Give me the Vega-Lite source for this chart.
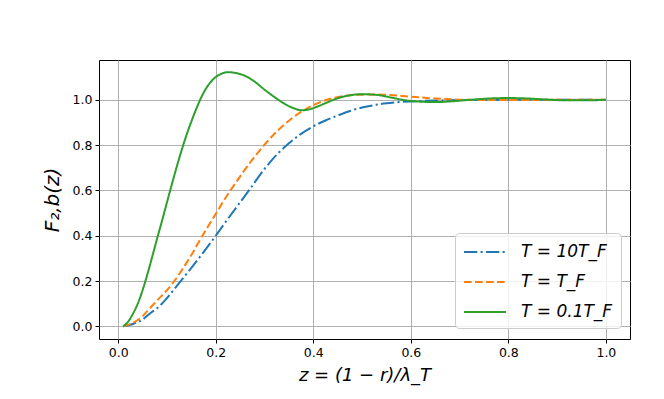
{
  "$schema": "https://vega.github.io/schema/vega-lite/v6.json",
  "width": 531,
  "height": 279,
  "autosize": {"type": "none"},
  "padding": {"left": 99, "top": 60, "right": 34, "bottom": 60},
  "background": "white",
  "config": {
    "view": {"stroke": "#000000", "strokeWidth": 1},
    "font": "DejaVu Sans",
    "axis": {
      "domain": false,
      "grid": true,
      "gridColor": "#b0b0b0",
      "gridWidth": 1,
      "tickColor": "#000000",
      "tickSize": 4,
      "tickWidth": 1,
      "labelColor": "#000000",
      "labelFont": "DejaVu Sans",
      "labelFontSize": 12.5,
      "labelPadding": 3,
      "titleColor": "#000000",
      "titleFont": "DejaVu Sans",
      "titleFontWeight": "normal",
      "titleFontStyle": "italic"
    }
  },
  "data": {
    "values": [
      {"T": "T = 10T_F", "z": 0.01, "F": 0.0},
      {"T": "T = 10T_F", "z": 0.03, "F": 0.01},
      {"T": "T = 10T_F", "z": 0.05, "F": 0.03},
      {"T": "T = 10T_F", "z": 0.065, "F": 0.057},
      {"T": "T = 10T_F", "z": 0.085, "F": 0.09},
      {"T": "T = 10T_F", "z": 0.1, "F": 0.125},
      {"T": "T = 10T_F", "z": 0.128, "F": 0.2},
      {"T": "T = 10T_F", "z": 0.15, "F": 0.258},
      {"T": "T = 10T_F", "z": 0.175, "F": 0.328},
      {"T": "T = 10T_F", "z": 0.2, "F": 0.4},
      {"T": "T = 10T_F", "z": 0.225, "F": 0.475},
      {"T": "T = 10T_F", "z": 0.25, "F": 0.548},
      {"T": "T = 10T_F", "z": 0.268, "F": 0.6},
      {"T": "T = 10T_F", "z": 0.3, "F": 0.695},
      {"T": "T = 10T_F", "z": 0.325, "F": 0.758},
      {"T": "T = 10T_F", "z": 0.35, "F": 0.808},
      {"T": "T = 10T_F", "z": 0.375, "F": 0.85},
      {"T": "T = 10T_F", "z": 0.4, "F": 0.883},
      {"T": "T = 10T_F", "z": 0.425, "F": 0.909},
      {"T": "T = 10T_F", "z": 0.45, "F": 0.931},
      {"T": "T = 10T_F", "z": 0.475, "F": 0.951},
      {"T": "T = 10T_F", "z": 0.5, "F": 0.966},
      {"T": "T = 10T_F", "z": 0.525, "F": 0.977},
      {"T": "T = 10T_F", "z": 0.55, "F": 0.985},
      {"T": "T = 10T_F", "z": 0.575, "F": 0.99},
      {"T": "T = 10T_F", "z": 0.6, "F": 0.993},
      {"T": "T = 10T_F", "z": 0.65, "F": 0.997},
      {"T": "T = 10T_F", "z": 0.7, "F": 0.999},
      {"T": "T = 10T_F", "z": 0.8, "F": 1.0},
      {"T": "T = 10T_F", "z": 0.9, "F": 1.0},
      {"T": "T = 10T_F", "z": 1.0, "F": 1.0},

      {"T": "T = T_F", "z": 0.01, "F": 0.0},
      {"T": "T = T_F", "z": 0.03, "F": 0.015},
      {"T": "T = T_F", "z": 0.05, "F": 0.045},
      {"T": "T = T_F", "z": 0.065, "F": 0.08},
      {"T": "T = T_F", "z": 0.08, "F": 0.115},
      {"T": "T = T_F", "z": 0.1, "F": 0.16},
      {"T": "T = T_F", "z": 0.115, "F": 0.2},
      {"T": "T = T_F", "z": 0.13, "F": 0.247},
      {"T": "T = T_F", "z": 0.15, "F": 0.315},
      {"T": "T = T_F", "z": 0.172, "F": 0.398},
      {"T": "T = T_F", "z": 0.19, "F": 0.462},
      {"T": "T = T_F", "z": 0.2, "F": 0.497},
      {"T": "T = T_F", "z": 0.222, "F": 0.574},
      {"T": "T = T_F", "z": 0.25, "F": 0.662},
      {"T": "T = T_F", "z": 0.275, "F": 0.736},
      {"T": "T = T_F", "z": 0.3, "F": 0.802},
      {"T": "T = T_F", "z": 0.325, "F": 0.86},
      {"T": "T = T_F", "z": 0.35, "F": 0.908},
      {"T": "T = T_F", "z": 0.375, "F": 0.947},
      {"T": "T = T_F", "z": 0.4, "F": 0.977},
      {"T": "T = T_F", "z": 0.425, "F": 0.998},
      {"T": "T = T_F", "z": 0.45, "F": 1.012},
      {"T": "T = T_F", "z": 0.475, "F": 1.02},
      {"T": "T = T_F", "z": 0.5, "F": 1.023},
      {"T": "T = T_F", "z": 0.525, "F": 1.024},
      {"T": "T = T_F", "z": 0.55, "F": 1.022},
      {"T": "T = T_F", "z": 0.575, "F": 1.019},
      {"T": "T = T_F", "z": 0.6, "F": 1.014},
      {"T": "T = T_F", "z": 0.65, "F": 1.006},
      {"T": "T = T_F", "z": 0.7, "F": 1.001},
      {"T": "T = T_F", "z": 0.75, "F": 0.999},
      {"T": "T = T_F", "z": 0.8, "F": 0.999},
      {"T": "T = T_F", "z": 0.9, "F": 1.0},
      {"T": "T = T_F", "z": 1.0, "F": 1.0},

      {"T": "T = 0.1T_F", "z": 0.01, "F": 0.0},
      {"T": "T = 0.1T_F", "z": 0.02, "F": 0.02},
      {"T": "T = 0.1T_F", "z": 0.03, "F": 0.055},
      {"T": "T = 0.1T_F", "z": 0.04, "F": 0.1},
      {"T": "T = 0.1T_F", "z": 0.05, "F": 0.16},
      {"T": "T = 0.1T_F", "z": 0.06, "F": 0.232},
      {"T": "T = 0.1T_F", "z": 0.07, "F": 0.31},
      {"T": "T = 0.1T_F", "z": 0.08, "F": 0.39},
      {"T": "T = 0.1T_F", "z": 0.09, "F": 0.468},
      {"T": "T = 0.1T_F", "z": 0.1, "F": 0.548},
      {"T": "T = 0.1T_F", "z": 0.11, "F": 0.628},
      {"T": "T = 0.1T_F", "z": 0.12, "F": 0.705},
      {"T": "T = 0.1T_F", "z": 0.13, "F": 0.778},
      {"T": "T = 0.1T_F", "z": 0.14, "F": 0.845},
      {"T": "T = 0.1T_F", "z": 0.15, "F": 0.905},
      {"T": "T = 0.1T_F", "z": 0.16, "F": 0.96},
      {"T": "T = 0.1T_F", "z": 0.17, "F": 1.01},
      {"T": "T = 0.1T_F", "z": 0.18, "F": 1.05},
      {"T": "T = 0.1T_F", "z": 0.19, "F": 1.08},
      {"T": "T = 0.1T_F", "z": 0.2, "F": 1.101},
      {"T": "T = 0.1T_F", "z": 0.21, "F": 1.114},
      {"T": "T = 0.1T_F", "z": 0.225, "F": 1.122},
      {"T": "T = 0.1T_F", "z": 0.24, "F": 1.119},
      {"T": "T = 0.1T_F", "z": 0.26, "F": 1.106},
      {"T": "T = 0.1T_F", "z": 0.28, "F": 1.08},
      {"T": "T = 0.1T_F", "z": 0.3, "F": 1.045},
      {"T": "T = 0.1T_F", "z": 0.32, "F": 1.013},
      {"T": "T = 0.1T_F", "z": 0.34, "F": 0.984},
      {"T": "T = 0.1T_F", "z": 0.36, "F": 0.963},
      {"T": "T = 0.1T_F", "z": 0.377, "F": 0.954},
      {"T": "T = 0.1T_F", "z": 0.39, "F": 0.957},
      {"T": "T = 0.1T_F", "z": 0.41, "F": 0.972},
      {"T": "T = 0.1T_F", "z": 0.43, "F": 0.99},
      {"T": "T = 0.1T_F", "z": 0.45, "F": 1.007},
      {"T": "T = 0.1T_F", "z": 0.47, "F": 1.018},
      {"T": "T = 0.1T_F", "z": 0.5, "F": 1.025},
      {"T": "T = 0.1T_F", "z": 0.53, "F": 1.022},
      {"T": "T = 0.1T_F", "z": 0.56, "F": 1.01},
      {"T": "T = 0.1T_F", "z": 0.59, "F": 0.998},
      {"T": "T = 0.1T_F", "z": 0.62, "F": 0.992},
      {"T": "T = 0.1T_F", "z": 0.65, "F": 0.99},
      {"T": "T = 0.1T_F", "z": 0.68, "F": 0.993},
      {"T": "T = 0.1T_F", "z": 0.72, "F": 1.0},
      {"T": "T = 0.1T_F", "z": 0.76, "F": 1.006},
      {"T": "T = 0.1T_F", "z": 0.8, "F": 1.008},
      {"T": "T = 0.1T_F", "z": 0.84, "F": 1.006},
      {"T": "T = 0.1T_F", "z": 0.88, "F": 1.001},
      {"T": "T = 0.1T_F", "z": 0.92, "F": 0.998},
      {"T": "T = 0.1T_F", "z": 0.96, "F": 0.998},
      {"T": "T = 0.1T_F", "z": 1.0, "F": 1.0}
    ]
  },
  "mark": {"type": "line", "strokeWidth": 2, "interpolate": "monotone", "clip": true},
  "encoding": {
    "x": {
      "field": "z",
      "type": "quantitative",
      "scale": {"domain": [-0.0395, 1.0495], "nice": false, "zero": false},
      "axis": {
        "values": [0, 0.2, 0.4, 0.6, 0.8, 1.0],
        "format": ".1f",
        "title": "z = (1 − r)/λ_T",
        "titleFontSize": 18,
        "titlePadding": 8
      }
    },
    "y": {
      "field": "F",
      "type": "quantitative",
      "scale": {"domain": [-0.056, 1.176], "nice": false, "zero": false},
      "axis": {
        "values": [0, 0.2, 0.4, 0.6, 0.8, 1.0],
        "format": ".1f",
        "title": "F₂,b(z)",
        "titleFontSize": 20,
        "titlePadding": 10
      }
    },
    "color": {
      "field": "T",
      "type": "nominal",
      "scale": {
        "domain": ["T = 10T_F", "T = T_F", "T = 0.1T_F"],
        "range": ["#1f77b4", "#ff7f0e", "#2ca02c"]
      },
      "legend": {
        "title": null,
        "orient": "none",
        "legendX": 356,
        "legendY": 173,
        "padding": 8,
        "fillColor": "rgba(255,255,255,0.8)",
        "strokeColor": "#cccccc",
        "cornerRadius": 4,
        "symbolType": "M-1,0H3.2",
        "symbolSize": 400,
        "symbolStrokeWidth": 2,
        "labelFont": "DejaVu Sans",
        "labelFontSize": 17,
        "labelFontStyle": "italic",
        "labelColor": "#000000",
        "labelOffset": 36,
        "rowPadding": 11,
        "labelLimit": 200
      }
    },
    "strokeDash": {
      "field": "T",
      "type": "nominal",
      "scale": {
        "domain": ["T = 10T_F", "T = T_F", "T = 0.1T_F"],
        "range": [[13.3, 3.3, 2.1, 3.3], [7.7, 3.3], [1, 0]]
      },
      "legend": null
    }
  }
}
